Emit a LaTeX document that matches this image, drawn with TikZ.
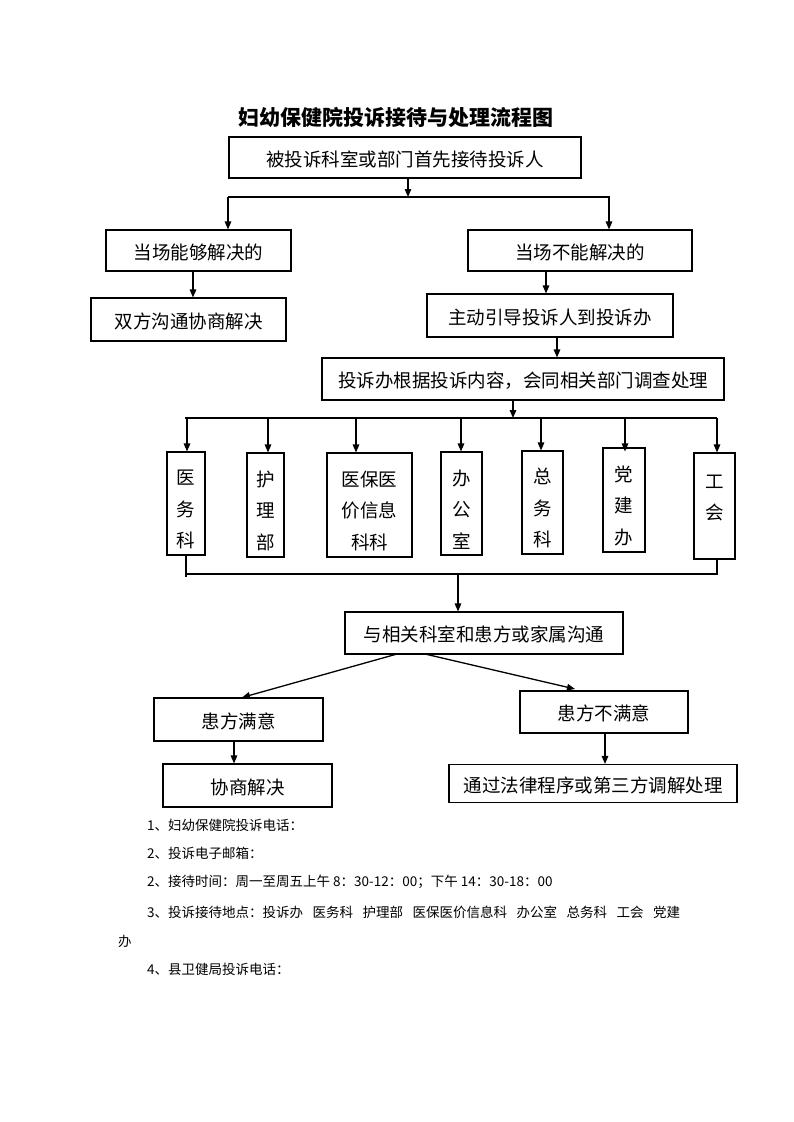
\documentclass[tikz,border=0pt]{standalone}
\usepackage{fontspec}
\setmainfont{Noto Sans CJK SC}
\usetikzlibrary{arrows.meta}
\newcommand{\gapsp}{\hspace{9.5pt}}
\newcommand{\myvlift}{\rule{0pt}{27pt}}
\begin{document}
\begin{tikzpicture}[x=1pt,y=-1pt,
  frame/.style={draw, line width=1.1pt, inner sep=0pt},
  box/.style={frame, font=\fontsize{18.5}{22}\selectfont, text height=17pt, text depth=0pt},
  vbox/.style={frame, align=center, font=\fontsize{18.5}{31.5}\selectfont},
  ln/.style={line width=1.3pt},
  arr/.style={ln, -{Triangle[length=8pt,width=6.5pt]}},
  note/.style={anchor=west, inner sep=0pt, font=\fontsize{13.5}{16}\selectfont}]
\useasboundingbox (0,0) rectangle (793,1122);
\fill[white] (0,0) rectangle (793,1122);

\node[font=\fontsize{21}{24}\selectfont\bfseries] (title) at (396,117) {妇幼保健院投诉接待与处理流程图};

\node[box, minimum width=352pt, minimum height=41pt] (b1) at (405,157.5) {被投诉科室或部门首先接待投诉人};
\node[box, minimum width=185pt, minimum height=41pt] (b2L) at (198.5,250.5) {当场能够解决的};
\node[box, minimum width=224pt, minimum height=41pt] (b2R) at (580,250.5) {当场不能解决的};
\node[box, minimum width=195pt, minimum height=43pt] (b3L) at (188.5,319.5) {双方沟通协商解决};
\node[box, minimum width=246pt, minimum height=43pt] (b3R) at (550,315.5) {主动引导投诉人到投诉办};
\node[box, minimum width=402pt, minimum height=42pt] (b4) at (523,379) {投诉办根据投诉内容，会同相关部门调查处理};

\node[vbox, minimum width=38pt, minimum height=103pt] (d1) at (186,503.5) {\myvlift 医\\务\\科};
\node[vbox, minimum width=37pt, minimum height=104pt] (d2) at (265.5,505) {\myvlift 护\\理\\部};
\node[vbox, minimum width=85pt, minimum height=104pt] (d3) at (369.5,505) {\myvlift 医保医\\价信息\\科科};
\node[vbox, minimum width=41pt, minimum height=103pt] (d4) at (461.5,503.5) {\myvlift 办\\公\\室};
\node[vbox, minimum width=41pt, minimum height=103pt] (d5) at (542.5,502.5) {\myvlift 总\\务\\科};
\node[vbox, minimum width=42pt, minimum height=104pt] (d6) at (624,500) {\myvlift 党\\建\\办};
\node[vbox, minimum width=41pt, minimum height=106pt] (d7) at (714.5,506) {\myvlift 工\\会\\~};

\node[box, minimum width=278pt, minimum height=42pt] (b5) at (484,633) {与相关科室和患方或家属沟通};
\node[box, minimum width=169pt, minimum height=43pt] (b6L) at (238.5,719.5) {患方满意};
\node[box, minimum width=168pt, minimum height=42pt] (b6R) at (604,712) {患方不满意};
\node[box, minimum width=169pt, minimum height=43pt] (b7L) at (247.5,785.5) {协商解决};
\node[box, minimum width=288pt, minimum height=38pt] (b7R) at (593,783.5) {通过法律程序或第三方调解处理};

% first split
\coordinate (j1) at (408,197);
\coordinate (s1L) at (228,197);
\coordinate (s1R) at (609,197);
\draw[ln] (s1L) -- (610,197);
\draw[arr] (b1.south -| j1) -- (j1);
\draw[arr] (s1L) -- (s1L |- b2L.north);
\draw[arr] (s1R) -- (s1R |- b2R.north);

\coordinate (a1) at (193,0);
\draw[arr] (b2L.south -| a1) -- (b3L.north -| a1);
\coordinate (a2) at (546,0);
\draw[arr] (b2R.south -| a2) -- (b3R.north -| a2);
\coordinate (a3) at (557,0);
\draw[arr] (b3R.south -| a3) -- (b4.north -| a3);

% top bus
\coordinate (j2) at (513,418);
\draw[arr] (b4.south -| j2) -- (j2);
\coordinate (t1) at (187,418);
\coordinate (t2) at (268,418);
\coordinate (t3) at (356,418);
\coordinate (t4) at (461,418);
\coordinate (t5) at (541,418);
\coordinate (t6) at (625,418);
\coordinate (t7) at (717,418);
\draw[ln] (185,418) -- (t7);
\draw[arr] (t1) -- (t1 |- d1.north);
\draw[arr] (t2) -- (t2 |- d2.north);
\draw[arr] (t3) -- (t3 |- d3.north);
\draw[arr] (t4) -- (t4 |- d4.north);
\draw[arr] (t5) -- (t5 |- d5.north);
\draw[arr] (t6) -- ([yshift=-4pt]t6 |- d6.north);
\draw[arr] (t7) -- (t7 |- d7.north);

% bottom bus
\coordinate (u1) at (186,574);
\coordinate (u7) at (717,574);
\coordinate (j3) at (458,574);
\draw[ln] (d1.south -| u1) -- (186,577);
\draw[ln] (d7.south -| u7) -- (u7) -- (u1);
\draw[arr] (j3) -- (b5.north -| j3);

% lower part
\coordinate (p1) at (397,654);
\coordinate (p2) at (425,654);
\draw[arr] (p1) -- (242,697.5);
\draw[arr] (p2) -- (575,689);
\coordinate (a4) at (234,0);
\draw[arr] (b6L.south -| a4) -- (b7L.north -| a4);
\coordinate (a5) at (605,0);
\draw[arr] (b6R.south -| a5) -- (b7R.north -| a5);

% notes
\node[note] (n1) at (147,825) {1、妇幼保健院投诉电话：};
\node[note] (n2) at (147,853) {2、投诉电子邮箱：};
\node[note] (n3) at (147,882) {2、接待时间：周一至周五上午 8：30-12：00；下午 14：30-18：00};
\node[note] (n4) at (147,912) {3、投诉接待地点：投诉办\gapsp 医务科\gapsp 护理部\gapsp 医保医价信息科\gapsp 办公室\gapsp 总务科\gapsp 工会\gapsp 党建};
\node[note] (n5) at (118,941) {办};
\node[note] (n6) at (147,969) {4、县卫健局投诉电话：};
\end{tikzpicture}
\end{document}
